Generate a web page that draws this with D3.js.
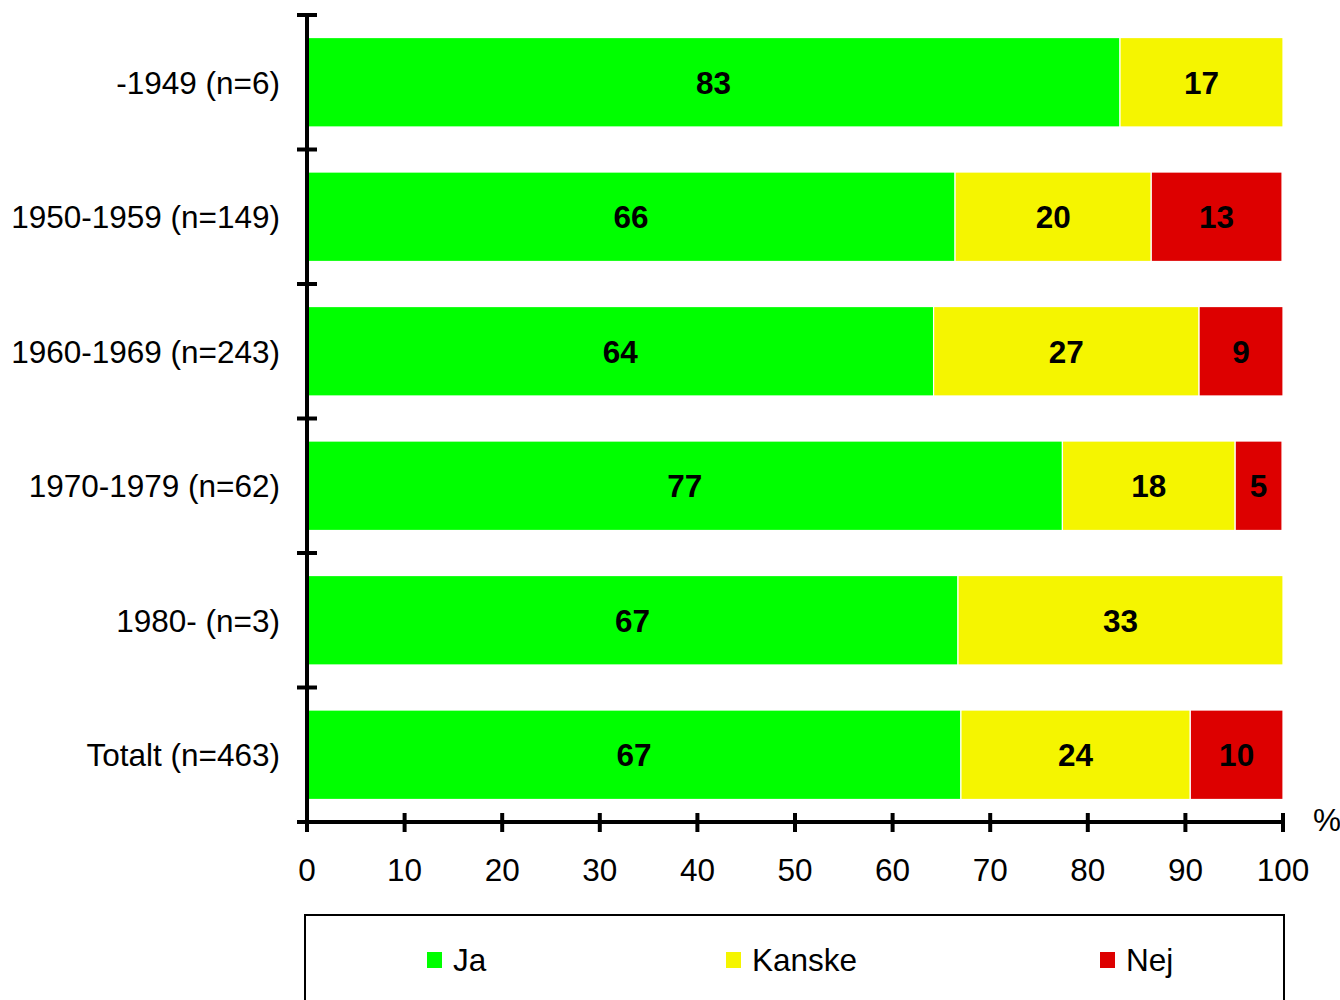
<!DOCTYPE html>
<html><head><meta charset="utf-8">
<script src="https://cdn.jsdelivr.net/npm/d3@7"></script>
<style>body{margin:0;background:#fff}svg{display:block}text{font-family:Arial,"Liberation Sans",sans-serif}</style>
</head><body><svg id="c" width="1340" height="1000"></svg>
<script>
const categories = ["-1949 (n=6)","1950-1959 (n=149)","1960-1969 (n=243)","1970-1979 (n=62)","1980- (n=3)","Totalt (n=463)"];
const seriesNames = ["Ja","Kanske","Nej"];
const ja     = [83.3, 66.4, 64.2, 77.4, 66.7, 67.0];
const kanske = [16.7, 20.1, 27.2, 17.7, 33.3, 23.5];
const nej    = [0,    13.4, 8.6,  4.8,  0,    9.5];
const labelsJa     = ["83","66","64","77","67","67"];
const labelsKanske = ["17","20","27","18","33","24"];
const labelsNej    = ["","13","9","5","","10"];
const xTicks = [0,10,20,30,40,50,60,70,80,90,100];
const colors = ["#00ff00","#f5f500","#dd0000"];
const FS = 31.5;

const svg = d3.select("#c");
const x = d3.scaleLinear().domain([0,100]).range([307,1283]);
const y = d3.scaleBand().domain(categories).range([15,822]).paddingInner(0.335).paddingOuter(0.1675);

const seriesVals = [ja,kanske,nej];
const seriesLabels = [labelsJa,labelsKanske,labelsNej];
categories.forEach((cat,i)=>{
  let start=0;
  seriesVals.forEach((vals,s)=>{
    const v=vals[i];
    if(v>0){
      svg.append("rect").attr("x",x(start)).attr("y",y(cat)).attr("width",x(start+v)-x(start))
        .attr("height",y.bandwidth()).attr("fill",colors[s]).attr("stroke","#fff").attr("stroke-width",1.2);
      if(seriesLabels[s][i]) svg.append("text").attr("x",x(start+v/2)).attr("y",y(cat)+y.bandwidth()/2)
        .attr("text-anchor","middle").attr("dy","0.36em").attr("font-size",FS).attr("font-weight","bold")
        .text(seriesLabels[s][i]);
    }
    start+=v;
  });
});

// y axis
svg.append("line").attr("x1",307).attr("x2",307).attr("y1",15).attr("y2",824).attr("stroke","#000").attr("stroke-width",4);
const step = (822-15)/categories.length;
d3.range(categories.length+1).forEach(k=>{
  const yy = 15+k*step;
  svg.append("line").attr("x1",297).attr("x2",317).attr("y1",yy).attr("y2",yy).attr("stroke","#000").attr("stroke-width",4);
});
categories.forEach(cat=>{
  svg.append("text").attr("x",280).attr("y",y(cat)+y.bandwidth()/2).attr("dy","0.36em")
    .attr("text-anchor","end").attr("font-size",FS).text(cat);
});

// x axis
const xa = svg.append("g").attr("transform","translate(0,822)")
  .call(d3.axisBottom(x).tickValues(xTicks).tickSize(0).tickPadding(0));
xa.select(".domain").remove();
xa.selectAll(".tick text").remove();
svg.append("line").attr("x1",297).attr("x2",1285).attr("y1",822).attr("y2",822).attr("stroke","#000").attr("stroke-width",4);
xTicks.forEach(t=>{
  svg.append("line").attr("x1",x(t)).attr("x2",x(t)).attr("y1",813).attr("y2",832).attr("stroke","#000").attr("stroke-width",4);
  svg.append("text").attr("x",x(t)).attr("y",870).attr("dy","0.36em").attr("text-anchor","middle").attr("font-size",FS).text(t);
});
svg.append("text").attr("x",1327).attr("y",820).attr("dy","0.36em").attr("text-anchor","middle").attr("font-size",FS).text("%");

// legend
svg.append("rect").attr("x",305).attr("y",915).attr("width",979).attr("height",100).attr("fill","none").attr("stroke","#000").attr("stroke-width",2);
const legX=[427,726,1100];
seriesNames.forEach((n,s)=>{
  svg.append("rect").attr("x",legX[s]).attr("y",952).attr("width",15).attr("height",16).attr("fill",colors[s]);
  svg.append("text").attr("x",legX[s]+26).attr("y",960).attr("dy","0.36em").attr("font-size",FS).text(n);
});
</script></body></html>
